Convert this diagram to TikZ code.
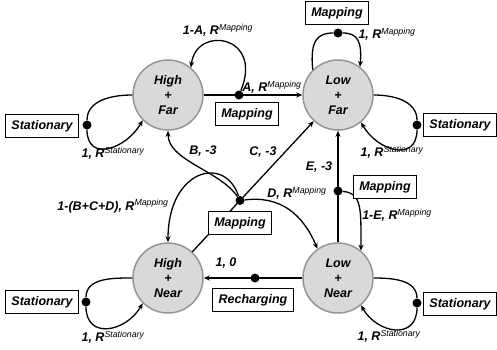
\documentclass[tikz,border=0pt]{standalone}
\usepackage{fontspec}
\setmainfont{Liberation Sans}
\usetikzlibrary{arrows.meta}
\newcommand{\Rsup}[1]{\textit{R}\textsuperscript{\mdseries\itshape #1}}
\definecolor{circf}{HTML}{D9D9D9}
\definecolor{circb}{HTML}{959595}
\begin{document}
\begin{tikzpicture}[x=1pt,y=-1pt,
  every node/.style={font=\fontsize{12.5}{15}\selectfont\bfseries\itshape},
  state/.style={circle,draw=circb,fill=circf,line width=1.5pt,minimum size=70pt,inner sep=0pt,align=center},
  tagbox/.style={draw,fill=white,line width=0.8pt,minimum height=23pt,inner xsep=6pt,inner ysep=0pt},
  dotnode/.style={circle,fill=black,minimum size=9pt,inner sep=0pt},
  lbl/.style={inner sep=0pt},
  link/.style={line width=1.3pt,-{Stealth[length=6pt,width=5pt]}},
  plain/.style={line width=1.3pt}]
\useasboundingbox (0,0) rectangle (497,349);
% states
\node[state] (hf) at (168,95) {High\\+\\Far};
\node[state] (lf) at (338,95) {Low\\+\\Far};
\node[state] (hn) at (168,278) {High\\+\\Near};
\node[state] (ln) at (338,278) {Low\\+\\Near};
% dots
\node[dotnode] (dA) at (239,95) {};
\node[dotnode] (dMT) at (338,33) {};
\node[dotnode] (dS1) at (87,125) {};
\node[dotnode] (dS2) at (417,125) {};
\node[dotnode] (dS3) at (86,302) {};
\node[dotnode] (dS4) at (417,303) {};
\node[dotnode] (dC) at (240,200.5) {};
\node[dotnode] (dE) at (338,191) {};
\node[dotnode] (dR) at (255,278) {};
% straight links
\draw[link] (hf) -- (lf);
\draw[link] (hn) -- (lf);
\draw[link] (ln) -- (lf);
\draw[link] (ln) -- (hn);
% stationary loops
\draw[plain] (hf.west) to[out=180,in=90] (dS1);
\draw[link] (dS1) to[out=-90,in=-120,looseness=1.5] (hf.225);
\draw[plain] (lf.east) to[out=0,in=90] (dS2);
\draw[link] (dS2) to[out=-90,in=-60,looseness=1.5] (lf.-50);
\draw[plain] (ln.east) to[out=0,in=90] (dS4);
\draw[link] (dS4) to[out=-90,in=-60,looseness=1.5] (ln.-50);
\draw[plain] (hn.west) to[out=180,in=90] (dS3);
\draw[link] (dS3) to[out=-90,in=-120,looseness=1.5] (hn.225);
% mapping loops
\draw[plain] (lf.135) .. controls +(-3,-30) and +(-20,0) .. (dMT);
\draw[link] (dMT) .. controls +(20,0) and +(2,-25) .. (lf.52);
\draw[link] (dA) .. controls +(25,-60) and +(5,-43) .. (hf.50);
% central branches
\draw[link] (dC) .. controls +(-20,-30) and +(0,30) .. (hf.south);
\draw[link] (dC) .. controls +(-15,-46) and +(0,-73) .. (hn.north);
\draw[link] (dC) .. controls +(40,-5) and +(-15,-35) .. (ln.125);
\draw[link] (dE) .. controls +(24,2) and +(0,-42) .. (ln.50);
% boxes
\node[tagbox] (bS1) at (42,126) {Stationary};
\node[tagbox] (bS2) at (460,125) {Stationary};
\node[tagbox] (bS3) at (42,302) {Stationary};
\node[tagbox] (bS4) at (460,304) {Stationary};
\node[tagbox] (bMA) at (247,114) {Mapping};
\node[tagbox] (bMT) at (337,13) {Mapping};
\node[tagbox] (bME) at (385,187) {Mapping};
\node[tagbox] (bMC) at (240,223) {Mapping};
\node[tagbox] (bR) at (253,300) {Recharging};
% labels
\node[lbl] (l1A) at (218,30) {1-A, \Rsup{Mapping}};
\node[lbl] (lA) at (272,87) {A, \Rsup{Mapping}};
\node[lbl] (lMT) at (387,34) {1, \Rsup{Mapping}};
\node[lbl] (lS1) at (113,153) {1, \Rsup{Stationary}};
\node[lbl] (lS2) at (392,152) {1, \Rsup{Stationary}};
\node[lbl] (lS3) at (113,337) {1, \Rsup{Stationary}};
\node[lbl] (lS4) at (389,336) {1, \Rsup{Stationary}};
\node[lbl] (lB) at (203,151) {B, -3};
\node[lbl] (lC) at (263,152) {C, -3};
\node[lbl] (lE) at (319,167) {E, -3};
\node[lbl] (lD) at (297,193) {D, \Rsup{Mapping}};
\node[lbl] (l1E) at (397,215) {1-E, \Rsup{Mapping}};
\node[lbl] (lBCD) at (113,206) {1-(B+C+D), \Rsup{Mapping}};
\node[lbl] (l10) at (226,263) {1, 0};
\end{tikzpicture}
\end{document}
